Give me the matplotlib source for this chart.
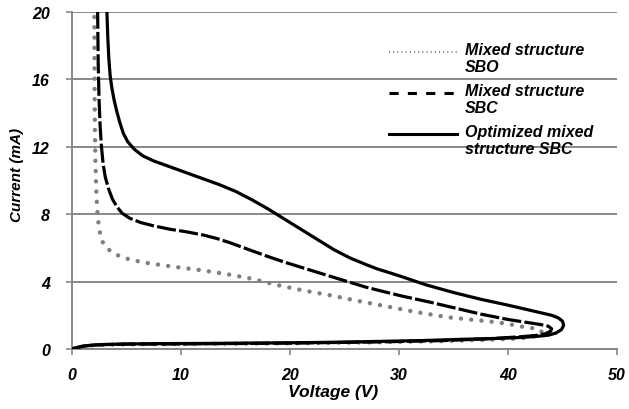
import matplotlib
matplotlib.use("Agg")
import matplotlib.pyplot as plt
from matplotlib.lines import Line2D

plt.rcParams['font.family'] = ['Liberation Sans', 'DejaVu Sans']

# Mixed structure SBO (dotted gray)
sbo_v = [0, 0.3, 0.7, 1.2, 2, 3, 5, 10, 20, 28, 34, 38, 41, 42.2, 42.8, 43.1, 42.9, 42.3,
         41.5, 40.3, 39.1, 36.5, 34.5, 31.5, 28.6, 26, 24, 21, 18.8, 16.4, 14.2, 12.1, 9.9,
         7.6, 6.6, 5.95, 5.1, 4.4, 3.8, 3.4, 3.05, 2.8, 2.62, 2.5, 2.4, 2.3, 2.22, 2.15,
         2.1, 2.07, 2.05, 2.05]
sbo_i = [0, 0.06, 0.12, 0.17, 0.22, 0.25, 0.28, 0.3, 0.34, 0.4, 0.47, 0.55, 0.62, 0.72,
         0.85, 1.0, 1.15, 1.23, 1.3, 1.45, 1.58, 1.75, 1.88, 2.2, 2.56, 2.88, 3.15, 3.5,
         3.8, 4.18, 4.44, 4.65, 4.83, 5.03, 5.13, 5.22, 5.35, 5.5, 5.68, 5.88, 6.1, 6.35,
         6.7, 7.1, 7.6, 8.4, 9.5, 11, 13, 16, 20, 21]

# Mixed structure SBC (dashed black)
sbc_v = [0, 0.3, 0.7, 1.2, 2, 3, 5, 10, 20, 28, 34, 38, 41, 42.5, 43.4, 43.9, 44.0, 43.7,
         43.0, 42, 40, 37.5, 35, 32.9, 30.2, 28.3, 27, 24, 21, 19.5, 17.9, 16.4, 14.5,
         13.3, 12.1, 10.5, 9, 7.5, 6.3, 5.3, 4.6, 4.1, 3.7, 3.35, 3.05, 2.85, 2.7, 2.58,
         2.48, 2.4, 2.35, 2.33]
sbc_i = [0, 0.06, 0.12, 0.18, 0.23, 0.26, 0.29, 0.3, 0.35, 0.42, 0.5, 0.6, 0.72, 0.8, 0.9,
         1.05, 1.2, 1.35, 1.45, 1.55, 1.75, 2.07, 2.45, 2.77, 3.15, 3.45, 3.66, 4.25, 4.85,
         5.15, 5.5, 5.85, 6.3, 6.55, 6.75, 6.95, 7.1, 7.3, 7.5, 7.75, 8.05, 8.45, 8.9,
         9.5, 10.2, 11, 12, 13.2, 14.8, 17, 20, 21]

# Optimized mixed structure SBC (solid black)
opt_v = [0, 0.3, 0.7, 1.2, 2, 3, 5, 8, 12, 16, 20, 24, 28, 32, 36, 39, 41, 42.5, 43.7,
         44.4, 44.9, 45.1, 45.0, 44.6, 44, 43, 42, 40, 37.5, 35, 32.5, 30.2, 29, 28, 27,
         25.5, 24, 22.5, 21, 19.5, 18, 16.5, 15, 13.5, 12, 10.5, 9, 7.5, 6.5, 5.7, 5.1,
         4.7, 4.4, 4.1, 3.85, 3.65, 3.5, 3.38, 3.28, 3.2, 3.15]
opt_i = [0, 0.06, 0.13, 0.19, 0.24, 0.27, 0.3, 0.32, 0.33, 0.35, 0.37, 0.4, 0.45, 0.5,
         0.58, 0.63, 0.68, 0.74, 0.82, 0.95, 1.15, 1.4, 1.65, 1.85, 2.0, 2.15, 2.3, 2.6,
         2.95, 3.35, 3.8, 4.3, 4.55, 4.75, 5.0, 5.4, 5.9, 6.5, 7.1, 7.7, 8.3, 8.85, 9.35,
         9.75, 10.1, 10.45, 10.8, 11.15, 11.45, 11.85, 12.3, 12.8, 13.4, 14.1, 14.8, 15.5,
         16.2, 17.2, 18.5, 20, 21]

labels = ["Mixed structure\nSBO", "Mixed structure\nSBC", "Optimized mixed\nstructure SBC"]
x_ticks = [0, 10, 20, 30, 40, 50]
y_ticks = [0, 4, 8, 12, 16, 20]

grid_col = "#888888"
dot_col = "#808080"
tick_font = dict(fontsize=11.5, fontweight="bold", fontstyle="italic")
leg_font = dict(fontsize=11.5, fontweight="bold", fontstyle="italic")

fig = plt.figure(figsize=(6.29, 4.10), dpi=100)
ax = fig.add_axes([0.1145, 0.1463, 0.8665, 0.8227])

ax.plot(sbo_v, sbo_i, color=dot_col, lw=3.2, linestyle=(0, (0.01, 2.3)),
        dash_capstyle="round", zorder=2)
ax.plot(sbc_v, sbc_i, color="black", lw=2.3, linestyle=(0, (6, 1)),
        solid_joinstyle="round", dash_joinstyle="round", zorder=3)
ax.plot(opt_v, opt_i, color="black", lw=2.3, solid_joinstyle="round", zorder=4)

ax.set_xlim(0, 50)
ax.set_ylim(0, 20)
ax.set_xticks(x_ticks)
ax.set_yticks(y_ticks)
ax.set_xticklabels([str(t) for t in x_ticks], **tick_font)
ax.set_yticklabels([str(t) for t in y_ticks], **tick_font)
ax.tick_params(axis="y", length=4, width=1.2, color=grid_col, pad=12)
ax.tick_params(axis="x", length=4, width=1.2, color=grid_col, pad=9)

ax.grid(axis="y", color=grid_col, lw=1.4)
ax.set_axisbelow(True)
for s in ["top", "right"]:
    ax.spines[s].set_visible(False)
for s in ["left", "bottom"]:
    ax.spines[s].set_color(grid_col)
    ax.spines[s].set_linewidth(1.4)

ax.set_xlabel("Voltage (V)", fontsize=12.5, fontweight="bold", fontstyle="italic", va="center")
ax.xaxis.set_label_coords(0.479, -0.127)
ax.set_ylabel("Current (mA)", fontsize=11, fontweight="bold", fontstyle="italic", va="center")
ax.yaxis.set_label_coords(-0.101, 0.519)

# legend drawn by hand so the line sample sits on the first text line
leg_y = [0.880, 0.759, 0.637]
styles = [dict(color=dot_col, lw=1.5, linestyle=(0, (0.5, 1.5))),
          dict(color="black", lw=2.2, linestyle=(0, (3, 3))),
          dict(color="black", lw=2.2)]
for y, lab, st in zip(leg_y, labels, styles):
    ax.add_line(Line2D([0.582, 0.706], [y, y], transform=ax.transAxes, **st))
    ax.text(0.721, y + 0.030, lab, transform=ax.transAxes, va="top", ha="left",
            linespacing=1.2, **leg_font)

fig.savefig("out.png", dpi=100)
